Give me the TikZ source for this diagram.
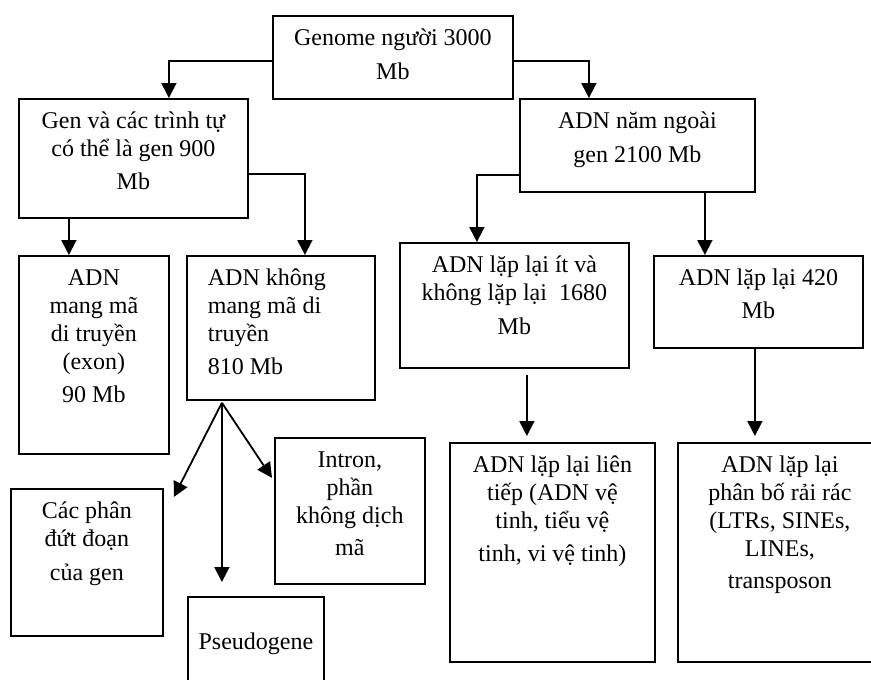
\documentclass[tikz,border=0pt]{standalone}
\usepackage{fontspec}
\setmainfont{Liberation Serif}
\usetikzlibrary{arrows.meta}
\newcommand{\cbox}[3]{\parbox[c][#2][t]{#1}{\centering\rule{0pt}{30pt}#3}}
\begin{document}
\begin{tikzpicture}[x=1pt,y=-1pt,
  blk/.style={draw,line width=1.8pt,inner sep=0pt,anchor=north west,font=\fontsize{24}{28}\selectfont},
  arr/.style={-{Triangle[width=15pt,length=15pt]},line width=1.8pt}]
\clip (0,0) rectangle (871,680);
\node[blk] (top) at (272,15) {\cbox{240pt}{83pt}{Genome người 3000\\[6pt] Mb}};
\node[blk] (gen) at (18,98) {\cbox{229pt}{119pt}{Gen và các trình tự\\ có thể là gen 900\\[5pt] Mb}};
\node[blk] (ngoai) at (519,98) {\cbox{235pt}{93pt}{ADN năm ngoài\\[6pt] gen 2100 Mb}};
\node[blk] (exon) at (18,255) {\cbox{150pt}{198pt}{ADN\\ mang mã\\ di truyền\\ (exon)\\[5pt] 90 Mb}};
\node[blk] (khong) at (186,255) {\parbox[c][144pt][t]{188pt}{\raggedright\leftskip=21pt\rule{0pt}{30pt}ADN không\\ mang mã di\\ truyền\\[5pt] 810 Mb}};
\node[blk] (dut) at (10,488) {\cbox{152pt}{147pt}{Các phân\\ đứt đoạn\\[6pt] của gen}};
\node[blk] (pseudo) at (187,596) {\parbox[c][110pt][t]{136pt}{\centering\rule{0pt}{53pt}Pseudogene}};
\node[blk] (intron) at (274,437) {\cbox{150pt}{146pt}{Intron,\\ phần\\ không dịch\\[4pt] mã}};
\node[blk] (it) at (399,242) {\cbox{229pt}{125pt}{ADN lặp lại ít và\\ không lặp lại\ \ 1680\\[6pt] Mb}};
\node[blk] (r420) at (653,255) {\cbox{209pt}{92pt}{ADN lặp lại 420\\[5pt] Mb}};
\node[blk] (lientiep) at (449,442) {\cbox{205pt}{219pt}{ADN lặp lại liên\\ tiếp (ADN vệ\\ tinh, tiểu vệ\\[5pt] tinh, vi vệ tinh)}};
\node[blk] (rairac) at (677,442) {\cbox{204pt}{219pt}{ADN lặp lại\\ phân bố rải rác\\ (LTRs, SINEs,\\ LINEs,\\[4pt] transposon}};
\coordinate (fork) at ([shift={(-59pt,-2pt)}]khong.south);
\draw[arr] ([yshift=-3.5pt]top.west) -| ([xshift=35.5pt]gen.north);
\draw[arr] ([yshift=-3.5pt]top.east) -| ([xshift=-48.5pt]ngoai.north);
\draw[arr] ([xshift=-64.5pt]gen.south) -- ([xshift=-25pt]exon.north);
\draw[arr] ([yshift=-15.5pt]gen.east) -| ([xshift=24pt]khong.north);
\draw[arr] ([yshift=-29.5pt]ngoai.west) -| ([xshift=-37.5pt]it.north);
\draw[arr] ([xshift=67.5pt]ngoai.south) -- ([xshift=-53.5pt]r420.north);
\draw[arr] (fork) -- ([shift={(10pt,-9pt)}]dut.north east);
\draw[arr] (fork) -- ([shift={(-34pt,14pt)}]pseudo.north);
\draw[arr] (fork) -- ([shift={(-2pt,33pt)}]intron.west);
\draw[arr] ([shift={(12.5pt,-6pt)}]it.south) -- ([shift={(-25.5pt,6pt)}]lientiep.north);
\draw[arr] ([xshift=-3.5pt]r420.south) -- ([shift={(-25pt,6pt)}]rairac.north);
\end{tikzpicture}
\end{document}
